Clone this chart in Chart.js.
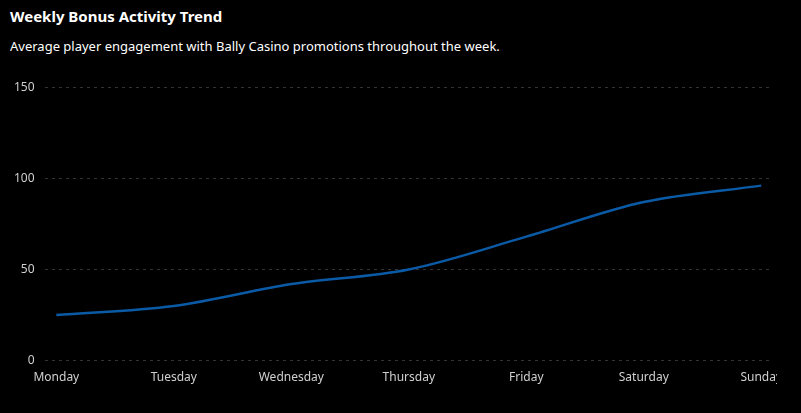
<!DOCTYPE html>
<html>
<head>
<meta charset="utf-8">
<script src="https://cdn.jsdelivr.net/npm/chart.js@4"></script>
<style>
    body { margin: 0; background: #000; font-family: "Segoe UI", "Noto Sans", "Open Sans", sans-serif; width: 801px; height: 413px; overflow: hidden; position: relative; }
    #title { position: absolute; left: 10px; top: 6px; color: #fff; font-size: 15px; font-weight: 700; }
    #subtitle { position: absolute; left: 10px; top: 37px; color: #fff; font-size: 13px; }
    #clip { position: absolute; left: 0; top: 70px; width: 777px; height: 330px; overflow: hidden; }
    #holder { position: relative; width: 801px; height: 317px; }
</style>
</head>
<body>
<div id="title">Weekly Bonus Activity Trend</div>
<div id="subtitle">Average player engagement with Bally Casino promotions throughout the week.</div>
<div id="clip"><div id="holder"><canvas id="chart"></canvas></div></div>
<script>
'use strict';

const days = ["Monday", "Tuesday", "Wednesday", "Thursday", "Friday", "Saturday", "Sunday"];
const activity = [25, 30, 42, 50, 68, 87, 96];
const y_ticks = [0, 50, 100, 150];

const create_chart = () => {
    const ctx = document.querySelector('#chart');
    const points = days.map((d, i) => ({ x: i, y: activity[i] }));

    new Chart(ctx, {
        type: "line",
        data: {
            datasets: [{
                label: "Activity",
                data: points,
                borderColor: "#0b5aa6",
                borderWidth: 2.5,
                pointRadius: 0,
                cubicInterpolationMode: "monotone",
                fill: false
            }]
        },
        options: {
            responsive: true,
            maintainAspectRatio: false,
            animation: false,
            layout: { padding: { left: 4, right: 28, top: 11, bottom: 0 } },
            plugins: { legend: { display: false }, tooltip: { enabled: false } },
            scales: {
                x: {
                    type: "linear",
                    min: -0.1,
                    max: 6.1,
                    grid: { display: false },
                    border: { display: false },
                    ticks: {
                        stepSize: 1,
                        includeBounds: false,
                        autoSkip: false,
                        maxRotation: 0,
                        color: "#d0d0d0",
                        font: { size: 12, family: "'Segoe UI', 'Noto Sans', sans-serif" },
                        padding: 2,
                        callback: v => days[v] ?? ""
                    }
                },
                y: {
                    min: 0,
                    max: 150,
                    afterBuildTicks: axis => { axis.ticks = y_ticks.map(v => ({ value: v })); },
                    grid: { color: "#333", drawTicks: false, lineWidth: 1 },
                    border: { display: false, dash: [3, 4] },
                    ticks: {
                        color: "#d0d0d0",
                        font: { size: 12, family: "'Segoe UI', 'Noto Sans', sans-serif" },
                        padding: 10
                    }
                }
            }
        }
    });
};

create_chart();
</script>
</body>
</html>
